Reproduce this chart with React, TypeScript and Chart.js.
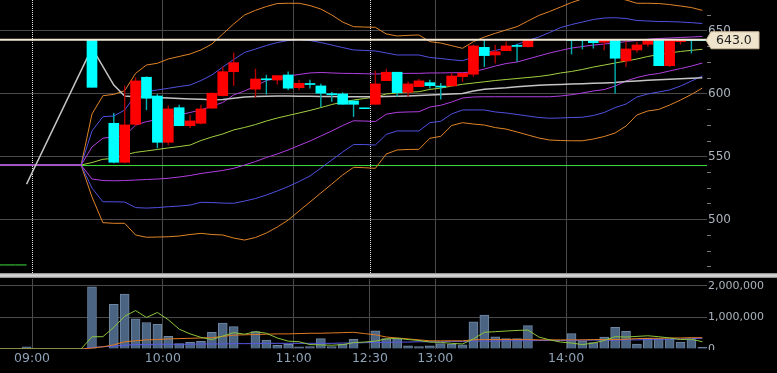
import { useEffect, useRef } from 'react';
import { Chart, registerables } from 'chart.js';

Chart.register(...registerables);

// ---------- axis / tick data ----------
const TIME_TICKS = [0, 12, 24, 31, 37, 49];
const TIME_LABELS = ['09:00', '10:00', '11:00', '12:30', '13:00', '14:00'];
const SESSION_START_TICKS = [0, 31];
const PRICE_MINOR_TICKS = [462.5, 475, 487.5, 500, 512.5, 525, 537.5, 550, 562.5, 575, 587.5, 600, 612.5, 625, 637.5, 650, 662.5];
const PRICE_LABEL_TICKS = [500, 550, 600, 650];
const VOLUME_TICKS = [0, 1000000, 2000000];
const LIMIT_PRICE = 643;
const PREV_CLOSE = 543;
const LAST_PRICE = 643.0;

// visible window (5-minute slots, 09:00 = slot 0)
const X_MIN = -2.94;
const X_MAX = 61.93;
const PRICE_MIN = 457.6;
const PRICE_MAX = 674.6;
const VOLUME_MAX = 2222000;

// ---------- candles ----------
const CANDLE_SLOTS = [5, 7, 8, 9, 10, 11, 12, 13, 14, 15, 16, 17, 18, 20, 21, 22, 23, 24, 25, 26, 27, 28, 29, 30, 31, 32, 33, 34, 35, 36, 37, 38, 39, 40, 41, 42, 43, 44, 45, 49, 50, 51, 52, 53, 54, 55, 56, 57, 58, 59, 60, 61];
const OPEN = [643, 576.6, 545.6, 575.8, 613.2, 598.3, 561.5, 589, 574.7, 576.6, 588.6, 598.6, 617.6, 603.7, 612, 611, 615, 604.9, 608.2, 606.3, 600.1, 599.9, 594.4, 588.9, 591.7, 610.5, 617.2, 601.3, 605.7, 608.9, 606.2, 606.3, 613.7, 615.6, 637, 630.9, 634.3, 638.5, 637.5, 643, 643, 643, 641, 643, 626.2, 634.9, 639.4, 643, 622.4, 641.5, 643, 643];
const HIGH = [643, 584.6, 606.3, 612.9, 613.7, 599.7, 590.6, 591.2, 583.2, 591.2, 601, 621.6, 632.7, 619.8, 615, 614.5, 617.6, 611, 611, 607.9, 601.3, 601, 594.4, 588.9, 618.2, 619.8, 617.2, 609.7, 611.6, 611, 608.4, 616.4, 616.4, 638.9, 642.8, 638.9, 641.5, 639.7, 643, 643, 643, 643, 643, 643, 642, 641, 643, 643, 643, 643, 643, 643];
const LOW = [605.2, 545, 545, 574.5, 587.2, 556.8, 559.4, 574.5, 573.1, 576, 588.6, 598.3, 606.5, 597.3, 599.7, 607.6, 603.1, 603.1, 604.5, 589.8, 593.8, 591.7, 581.9, 588.2, 591.7, 610.5, 597.8, 597.8, 605.7, 604.5, 595.7, 606.3, 609.7, 613.7, 621.6, 624.3, 634.3, 625.6, 637, 631.5, 635.5, 636.2, 634.9, 600.5, 621.6, 633, 637.5, 622.4, 621.6, 639.4, 632.3, 642.4];
const CLOSE = [605.2, 545.6, 575.3, 610.3, 596.5, 561.5, 588, 574.7, 578.5, 588, 600.5, 617.6, 624.8, 611.8, 611.2, 614.5, 604.5, 608.4, 607.4, 600.5, 599.3, 591.7, 591.7, 588.2, 607.9, 617.2, 601, 607.9, 610.3, 606.5, 605.4, 614.2, 616.4, 638.1, 630.4, 633.5, 638.1, 637.7, 642.5, 642.4, 642.4, 640.7, 643, 628.3, 635.7, 638.9, 643, 622.4, 643, 643, 642.4, 642.4];

// ---------- indicators, one value per slot starting at slot -4 ----------
const SLOT0 = -4;
const BB_UP3 = [543.4, 543.4, 543.4, 543.4, 543.4, 543.4, 543.4, 543.4,
  543.4, 584, 598.5, 599.6, 602.5, 616.3, 622.9, 624.3, 627.7, 629.7, 631.7, 634.9, 639.6, 647.6, 655.5, 662.7, 666.4, 669.4, 671.8, 672, 672, 670.2, 667.4, 662.7, 657.1, 653.4, 653.1, 652.9, 647.6, 646, 646.5, 646.8, 641.5, 640.4, 638.3, 636.2, 641.5, 645.2, 648.1, 650.8, 653.4, 657.9, 662.3, 665.5, 669, 672.6, 675.5, 677, 677.5, 676.5, 674.6, 672, 672, 671.8, 671, 669.8, 668.6, 666.4];
const BB_UP2 = [543.4, 543.4, 543.4, 543.4, 543.4, 543.4, 543.4, 543.4,
  543.4, 570.5, 581.8, 582.4, 587.1, 599.1, 601.7, 603.1, 604.4, 605.8, 607, 610.6, 615, 621.3, 627.3, 632.9, 635.6, 638.4, 640.8, 642.4, 643.2, 642.4, 640.8, 638.8, 636.8, 634.9, 634.5, 634.1, 632.5, 630.9, 630.9, 630.9, 628.9, 628.1, 627.1, 626.3, 629.3, 632.5, 634.5, 636.4, 639.2, 642.4, 645.2, 648.8, 652.7, 655.1, 657.1, 659.1, 660.3, 660.5, 659.9, 658.3, 657.9, 657.5, 657.4, 657.1, 656.6, 655.9];
const BB_UP1 = [543.4, 543.4, 543.4, 543.4, 543.4, 543.4, 543.4, 543.4,
  543.4, 557.8, 564.7, 566, 566.5, 575.2, 577.9, 579.6, 581.6, 583.2, 585.2, 587.2, 590.3, 593.1, 599.1, 602.3, 606.2, 610.6, 612.6, 614.2, 615.4, 616.6, 617, 616.6, 616.3, 616.2, 616, 615.8, 616, 616.2, 616.3, 616.3, 616.6, 616.6, 616.8, 616.8, 617.6, 619.7, 622.1, 624.1, 625.3, 627.7, 630.1, 632.5, 634.5, 636.4, 637.6, 638.8, 639.6, 640.4, 641.6, 642.4, 643.4, 644, 644.4, 644.8, 645.2, 645.6];
const BB_MID = [543.4, 543.4, 543.4, 543.4, 543.4, 543.4, 543.4, 543.4,
  543.4, 545.4, 548, 548.7, 551.4, 553.5, 554.6, 555.8, 557, 558.1, 559.3, 562.9, 565.7, 568.1, 571.3, 573.3, 575.6, 578.4, 580.8, 582.8, 584.8, 586.8, 589.1, 591.5, 593.5, 595.1, 596.3, 597.5, 599.9, 600.7, 601.3, 601.7, 603.5, 604.6, 606.2, 607.6, 608.6, 609.6, 610.6, 611.4, 612.2, 613, 613.8, 615, 616.6, 617.8, 619.4, 621.3, 622.9, 624.5, 626.1, 627.7, 629.7, 631.3, 632.5, 633.7, 634.6, 635.4];
const BB_DN1 = [543.4, 543.4, 543.4, 543.4, 543.4, 543.4, 543.4, 543.4,
  543.4, 532.3, 531.1, 530.9, 531.1, 531.5, 531.9, 532.3, 532.9, 533.9, 535.1, 536.7, 537.9, 539.1, 540.8, 543.4, 546.2, 549.4, 552.2, 555.4, 559, 562.5, 566.5, 570.5, 574.8, 578.6, 578.4, 578, 583.8, 585.3, 585.6, 585.8, 589.5, 590.9, 593.5, 596.7, 597.5, 597.7, 597.7, 597.7, 597.7, 597.7, 597.7, 597.7, 598.3, 599.3, 600.7, 602.3, 603.4, 606.2, 610.2, 613, 615, 616.2, 618.2, 620.1, 622.1, 624.5];
const BB_DN2 = [543.4, 543.4, 543.4, 543.4, 543.4, 543.4, 543.4, 543.4,
  543.4, 525.1, 514.2, 514.2, 514, 509.6, 509.2, 509.6, 510.3, 510.8, 511.6, 513.8, 513.6, 513.2, 513, 514.8, 516.8, 519.6, 522.8, 526.3, 530.3, 534.7, 541, 547.4, 553.8, 559.7, 559.7, 559.3, 567.8, 570.5, 570.5, 570.5, 577.1, 578.2, 584, 587.2, 587.2, 587.2, 585.6, 584.8, 583.6, 582.4, 581.2, 580.6, 580.8, 581.2, 581.4, 582.8, 585.2, 589.1, 591.9, 597.5, 599.9, 601.5, 603.1, 606.2, 610.2, 614.2];
const BB_DN3 = [543.4, 543.4, 543.4, 543.4, 543.4, 543.4, 543.4, 543.4,
  543.4, 518, 497.6, 497.1, 497.1, 487.8, 486, 486.2, 486.4, 487, 488.2, 489.1, 488.2, 487.8, 485.4, 483.8, 485.8, 489.4, 494.1, 499.7, 506.9, 514, 521.2, 528.3, 535.5, 541.6, 541.3, 540.8, 552.2, 555.4, 555.8, 555.9, 564.7, 566.2, 574.8, 577.1, 576, 575.2, 573.2, 572, 569.7, 567.3, 564.9, 563.3, 562.9, 562.7, 562.7, 564.1, 566.1, 568.9, 574.4, 583.2, 586.4, 587.6, 591.1, 595.1, 599.5, 604.6];
const VWAP = [null, null, null, 528.3, null, null, null, null, null, 636.5, null, 607, 598.3,
  597.7, 597.4, 597.1, 596.7, 596.3, 596, 595.7, 595.4, 595.5, 596.5, 597.4, 597.9, 598.1, 598.2, 598.2, 598.1, 598, 597.9, 597.8, 597.7, 597.6, 597.6, 597.6, 597.8, 598, 598.3, 598.6, 599, 599.4, 599.8, 600.3, 602.3, 603.6, 604.2, 604.8, 605.6, 606.3, 606.8, 607.2, 607.5, 607.8, 608.1, 608.4, 608.7, 609, 609.8, 610.3, 610.8, 611.3, 611.7, 612.1, 612.5, 612.8];
const PREV_DAY_LINE = [464, 464, 464, 464];

// ---------- volume, one value per slot starting at slot -4 ----------
const VOLUME = [null, null, null, 70000, null, null, null, null, null, 1970000, null, 1420000, 1740000, 960000, 840000, 780000, 400000, 170000, 210000, 240000, 530000, 820000, 710000, null, 550000, 280000, 120000, 150000, 70000, 80000, 330000, 80000, 160000, 310000, null, 580000, 330000, 330000, 100000, 80000, 100000, 170000, 160000, 130000, 860000, 1080000, 390000, 330000, 330000, 740000, null, null, null, 490000, 260000, 200000, 380000, 690000, 560000, 160000, 340000, 330000, 320000, 220000, 300000, 50000];
const VOL_MA_SHORT = [0, 0, 0, 0, 0, 0, 0, 0, 0, 390000, 390000, 690000, 1040000, 1220000, 1000000, 1160000, 930000, 630000, 480000, 370000, 300000, 410000, 520000, 470000, 550000, 500000, 350000, 250000, 230000, 140000, 130000, 120000, 140000, 200000, 220000, 250000, 320000, 340000, 300000, 270000, 220000, 210000, 180000, 160000, 320000, 530000, 550000, 570000, 590000, 600000, 380000, 290000, 220000, 190000, 140000, 190000, 270000, 390000, 380000, 400000, 420000, 390000, 350000, 300000, 310000, 230000];
const VOL_MA_MID = [0, 0, 0, 0, 0, 0, 0, 0, 0, 30000, 70000, 130000, 230000, 260000, 290000, 300000, 320000, 330000, 340000, 350000, 360000, 400000, 440000, 450000, 460000, 470000, 480000, 480000, 490000, 500000, 500000, 510000, 520000, 530000, 490000, 450000, 380000, 350000, 320000, 290000, 260000, 260000, 260000, 260000, 290000, 300000, 300000, 300000, 300000, 300000, 290000, 290000, 290000, 290000, 290000, 300000, 300000, 300000, 310000, 330000, 340000, 340000, 350000, 350000, 360000, 360000];
const VOL_MA_LONG = [0, 0, 0, 0, 0, 0, 0, 0, 0, 50000, 70000, 90000, 120000, 140000, 140000, 150000, 150000, 150000, 150000, 160000, 160000, 160000, 170000, 170000, 170000, 180000, 180000, 180000, 180000, 180000, 180000, 180000, 190000, 190000, 200000, 210000, 210000, 220000, 220000, 230000, 230000, 230000, 240000, 240000, 250000, 250000, 250000, 260000, 260000, 260000, 270000, 270000, 270000, 270000, 280000, 280000, 280000, 280000, 290000, 290000, 300000, 310000, 310000, 320000, 330000, 340000];

// ---------- colours ----------
const GRID = '#4a4a4a';
const UP = '#ff0000';
const DOWN = '#00ffff';
const UP_WICK = '#b00000';
const DOWN_WICK = '#00b0b0';
const AXIS_TEXT = '#aab4be';
const TIME_TEXT = '#8ea2b6';
const FONT = '"DejaVu Sans", sans-serif';

const slotX = (slot: number) => slot + 0.5;
const series = (arr: (number | null)[]) =>
  arr.map((v, i) => ({ x: slotX(SLOT0 + i), y: v }));

const sessionLines = {
  id: 'sessionLines',
  beforeDatasetsDraw(chart: any) {
    const { ctx, chartArea, scales } = chart;
    ctx.save();
    ctx.strokeStyle = '#e6e6e6';
    ctx.lineWidth = 1;
    ctx.setLineDash([1, 1]);
    SESSION_START_TICKS.forEach((v) => {
      const px = Math.round(scales.x.getPixelForValue(v)) + 0.5;
      ctx.beginPath();
      ctx.moveTo(px, chartArea.top);
      ctx.lineTo(px, chartArea.bottom);
      ctx.stroke();
    });
    ctx.restore();
  },
};

const priceTag = {
  id: 'priceTag',
  afterDraw(chart: any) {
    const { ctx, chartArea, scales } = chart;
    const y = scales.y.getPixelForValue(LAST_PRICE) + 0.5;
    const x0 = chartArea.right - 1;
    const h = 8.5;
    ctx.save();
    ctx.beginPath();
    ctx.moveTo(x0, y);
    ctx.lineTo(x0 + 5, y - h);
    ctx.lineTo(x0 + 53, y - h);
    ctx.lineTo(x0 + 53, y + h);
    ctx.lineTo(x0 + 5, y + h);
    ctx.closePath();
    ctx.fillStyle = '#efe4cc';
    ctx.fill();
    ctx.strokeStyle = '#c9b99a';
    ctx.lineWidth = 1;
    ctx.stroke();
    ctx.fillStyle = '#1e1e1e';
    ctx.font = '12.5px ' + FONT;
    ctx.textBaseline = 'middle';
    ctx.textAlign = 'left';
    ctx.fillText(LAST_PRICE.toFixed(1), x0 + 10, y + 0.5);
    ctx.restore();
  },
};

const clipZeroLabel = {
  id: 'clipZeroLabel',
  afterDraw(chart: any) {
    const { ctx, chartArea, width, height } = chart;
    ctx.save();
    ctx.fillStyle = '#000';
    ctx.fillRect(chartArea.right + 1, chartArea.bottom + 1, width - chartArea.right, height - chartArea.bottom);
    ctx.restore();
  },
};

export default function App() {
  const mainRef = useRef<HTMLCanvasElement | null>(null);
  const volRef = useRef<HTMLCanvasElement | null>(null);

  useEffect(() => {
    document.body.style.margin = '0';
    document.body.style.background = '#000';
    Chart.defaults.font.family = FONT;

    const bodies = CANDLE_SLOTS.map((s, i) => ({
      x: slotX(s),
      y: [Math.min(OPEN[i], CLOSE[i]), Math.max(OPEN[i], CLOSE[i])],
    }));
    const wicks = CANDLE_SLOTS.map((s, i) => ({ x: slotX(s), y: [LOW[i], HIGH[i]] }));
    const isUp = CANDLE_SLOTS.map((_, i) => CLOSE[i] >= OPEN[i]);

    const line = (data: any, color: string, order: number, width = 1, extra: any = {}) => ({
      type: 'line' as const,
      data,
      borderColor: color,
      borderWidth: width,
      pointRadius: 0,
      tension: 0,
      order,
      ...extra,
    });

    const xAxisBase = {
      type: 'linear' as const,
      min: X_MIN,
      max: X_MAX,
      offset: false,
      afterBuildTicks: (s: any) => {
        s.ticks = TIME_TICKS.map((v) => ({ value: v }));
      },
      border: { display: false },
    };

    const main = new Chart(mainRef.current as HTMLCanvasElement, {
      type: 'bar',
      data: {
        datasets: [
          line([{ x: X_MIN, y: LIMIT_PRICE }, { x: X_MAX, y: LIMIT_PRICE }], '#f2e8d4', 0, 2),
          {
            type: 'bar',
            data: bodies as any,
            backgroundColor: isUp.map((u) => (u ? UP : DOWN)),
            borderWidth: 0,
            barThickness: 10,
            grouped: false,
            order: 1,
          },
          {
            type: 'bar',
            data: wicks as any,
            backgroundColor: isUp.map((u) => (u ? UP_WICK : DOWN_WICK)),
            borderWidth: 0,
            barThickness: 1,
            inflateAmount: 0.2,
            grouped: false,
            order: 2,
          },
          line(series(VWAP), '#c4c4c4', 3, 1.5, { spanGaps: true }),
          line(series(BB_UP1), '#b03ee0', 4),
          line(series(BB_DN1), '#b03ee0', 4),
          line(series(BB_MID), '#a2d040', 5),
          line(series(BB_UP2), '#5050e0', 6),
          line(series(BB_DN2), '#5050e0', 6),
          line(series(BB_UP3), '#e08428', 7),
          line(series(BB_DN3), '#e08428', 7),
          line([{ x: X_MIN, y: PREV_CLOSE }, { x: X_MAX, y: PREV_CLOSE }], '#3ee03e', 8),
          line(series(PREV_DAY_LINE), '#3ee03e', 8),
        ] as any,
      },
      options: {
        responsive: false,
        animation: false,
        layout: { padding: 0 },
        plugins: { legend: { display: false }, tooltip: { enabled: false } },
        scales: {
          x: {
            ...xAxisBase,
            afterFit: (s: any) => {
              s.height = 0;
              s.paddingLeft = 0;
              s.paddingRight = 0;
            },
            ticks: { display: false },
            grid: {
              drawTicks: false,
              offset: false,
              color: (c: any) => (SESSION_START_TICKS.includes(c.tick?.value) ? 'rgba(0,0,0,0)' : GRID),
            },
          },
          y: {
            type: 'linear',
            position: 'right',
            min: PRICE_MIN,
            max: PRICE_MAX,
            beginAtZero: false,
            afterBuildTicks: (s: any) => {
              s.ticks = PRICE_MINOR_TICKS.map((v) => ({ value: v }));
            },
            afterFit: (s: any) => {
              s.width = 70;
              s.paddingTop = 0;
              s.paddingBottom = 0;
            },
            ticks: {
              autoSkip: false,
              padding: -3,
              color: AXIS_TEXT,
              font: { size: 12, family: FONT },
              callback: (v: any) => (PRICE_LABEL_TICKS.includes(Number(v)) ? String(v) : ''),
            },
            grid: {
              drawTicks: true,
              tickLength: 4,
              color: (c: any) => (PRICE_LABEL_TICKS.includes(c.tick?.value) ? GRID : 'rgba(0,0,0,0)'),
              tickColor: (c: any) => (PRICE_LABEL_TICKS.includes(c.tick?.value) ? 'rgba(0,0,0,0)' : '#7a7a7a'),
            },
            border: { display: false },
          },
        },
      } as any,
      plugins: [sessionLines, priceTag],
    });

    const volData = VOLUME.map((v, i) => ({ x: slotX(SLOT0 + i), y: v })).filter((p) => p.y !== null);

    const vol = new Chart(volRef.current as HTMLCanvasElement, {
      type: 'bar',
      data: {
        datasets: [
          line(series(VOL_MA_SHORT), '#8cc43c', 0),
          line(series(VOL_MA_MID), '#e07a22', 1),
          line(series(VOL_MA_LONG), '#5858e8', 2),
          {
            type: 'bar',
            data: volData as any,
            backgroundColor: '#4b6482',
            borderColor: '#6f87a3',
            borderWidth: 1,
            barThickness: 9,
            grouped: false,
            order: 3,
          },
        ] as any,
      },
      options: {
        responsive: false,
        animation: false,
        layout: { padding: { top: 1, left: 0, right: 0, bottom: 0 } },
        plugins: { legend: { display: false }, tooltip: { enabled: false } },
        scales: {
          x: {
            ...xAxisBase,
            afterFit: (s: any) => {
              s.height = 24;
              s.paddingLeft = 0;
              s.paddingRight = 0;
            },
            ticks: {
              autoSkip: false,
              maxRotation: 0,
              padding: 2,
              color: TIME_TEXT,
              font: { size: 12.5, family: FONT },
              callback: (v: any) => TIME_LABELS[TIME_TICKS.indexOf(Number(v))] ?? '',
            },
            grid: { drawTicks: false, offset: false, color: GRID },
          },
          y: {
            type: 'linear',
            position: 'right',
            min: 0,
            max: VOLUME_MAX,
            afterBuildTicks: (s: any) => {
              s.ticks = VOLUME_TICKS.map((v) => ({ value: v }));
            },
            afterFit: (s: any) => {
              s.width = 70;
              s.paddingTop = 0;
              s.paddingBottom = 0;
            },
            ticks: {
              autoSkip: false,
              padding: 1,
              color: AXIS_TEXT,
              font: { size: 11, family: FONT },
              callback: (v: any) => Number(v).toLocaleString('en-US'),
            },
            grid: {
              drawTicks: false,
              color: (c: any) => (c.tick?.value === 0 ? 'rgba(0,0,0,0)' : GRID),
            },
            border: { display: false },
          },
        },
      } as any,
      plugins: [clipZeroLabel],
    });

    return () => {
      main.destroy();
      vol.destroy();
    };
  }, []);

  return (
    <div style={{ position: 'relative', width: 777, height: 373, background: '#000', overflow: 'hidden' }}>
      <canvas ref={mainRef} width={777} height={273} style={{ position: 'absolute', left: 0, top: 0 }} />
      <div
        style={{
          position: 'absolute',
          left: 0,
          top: 273,
          width: 777,
          height: 5,
          background: 'linear-gradient(#7c7c7c, #d4d4d4 35%, #d4d4d4 65%, #7c7c7c)',
        }}
      />
      <canvas ref={volRef} width={777} height={95} style={{ position: 'absolute', left: 0, top: 278 }} />
    </div>
  );
}
